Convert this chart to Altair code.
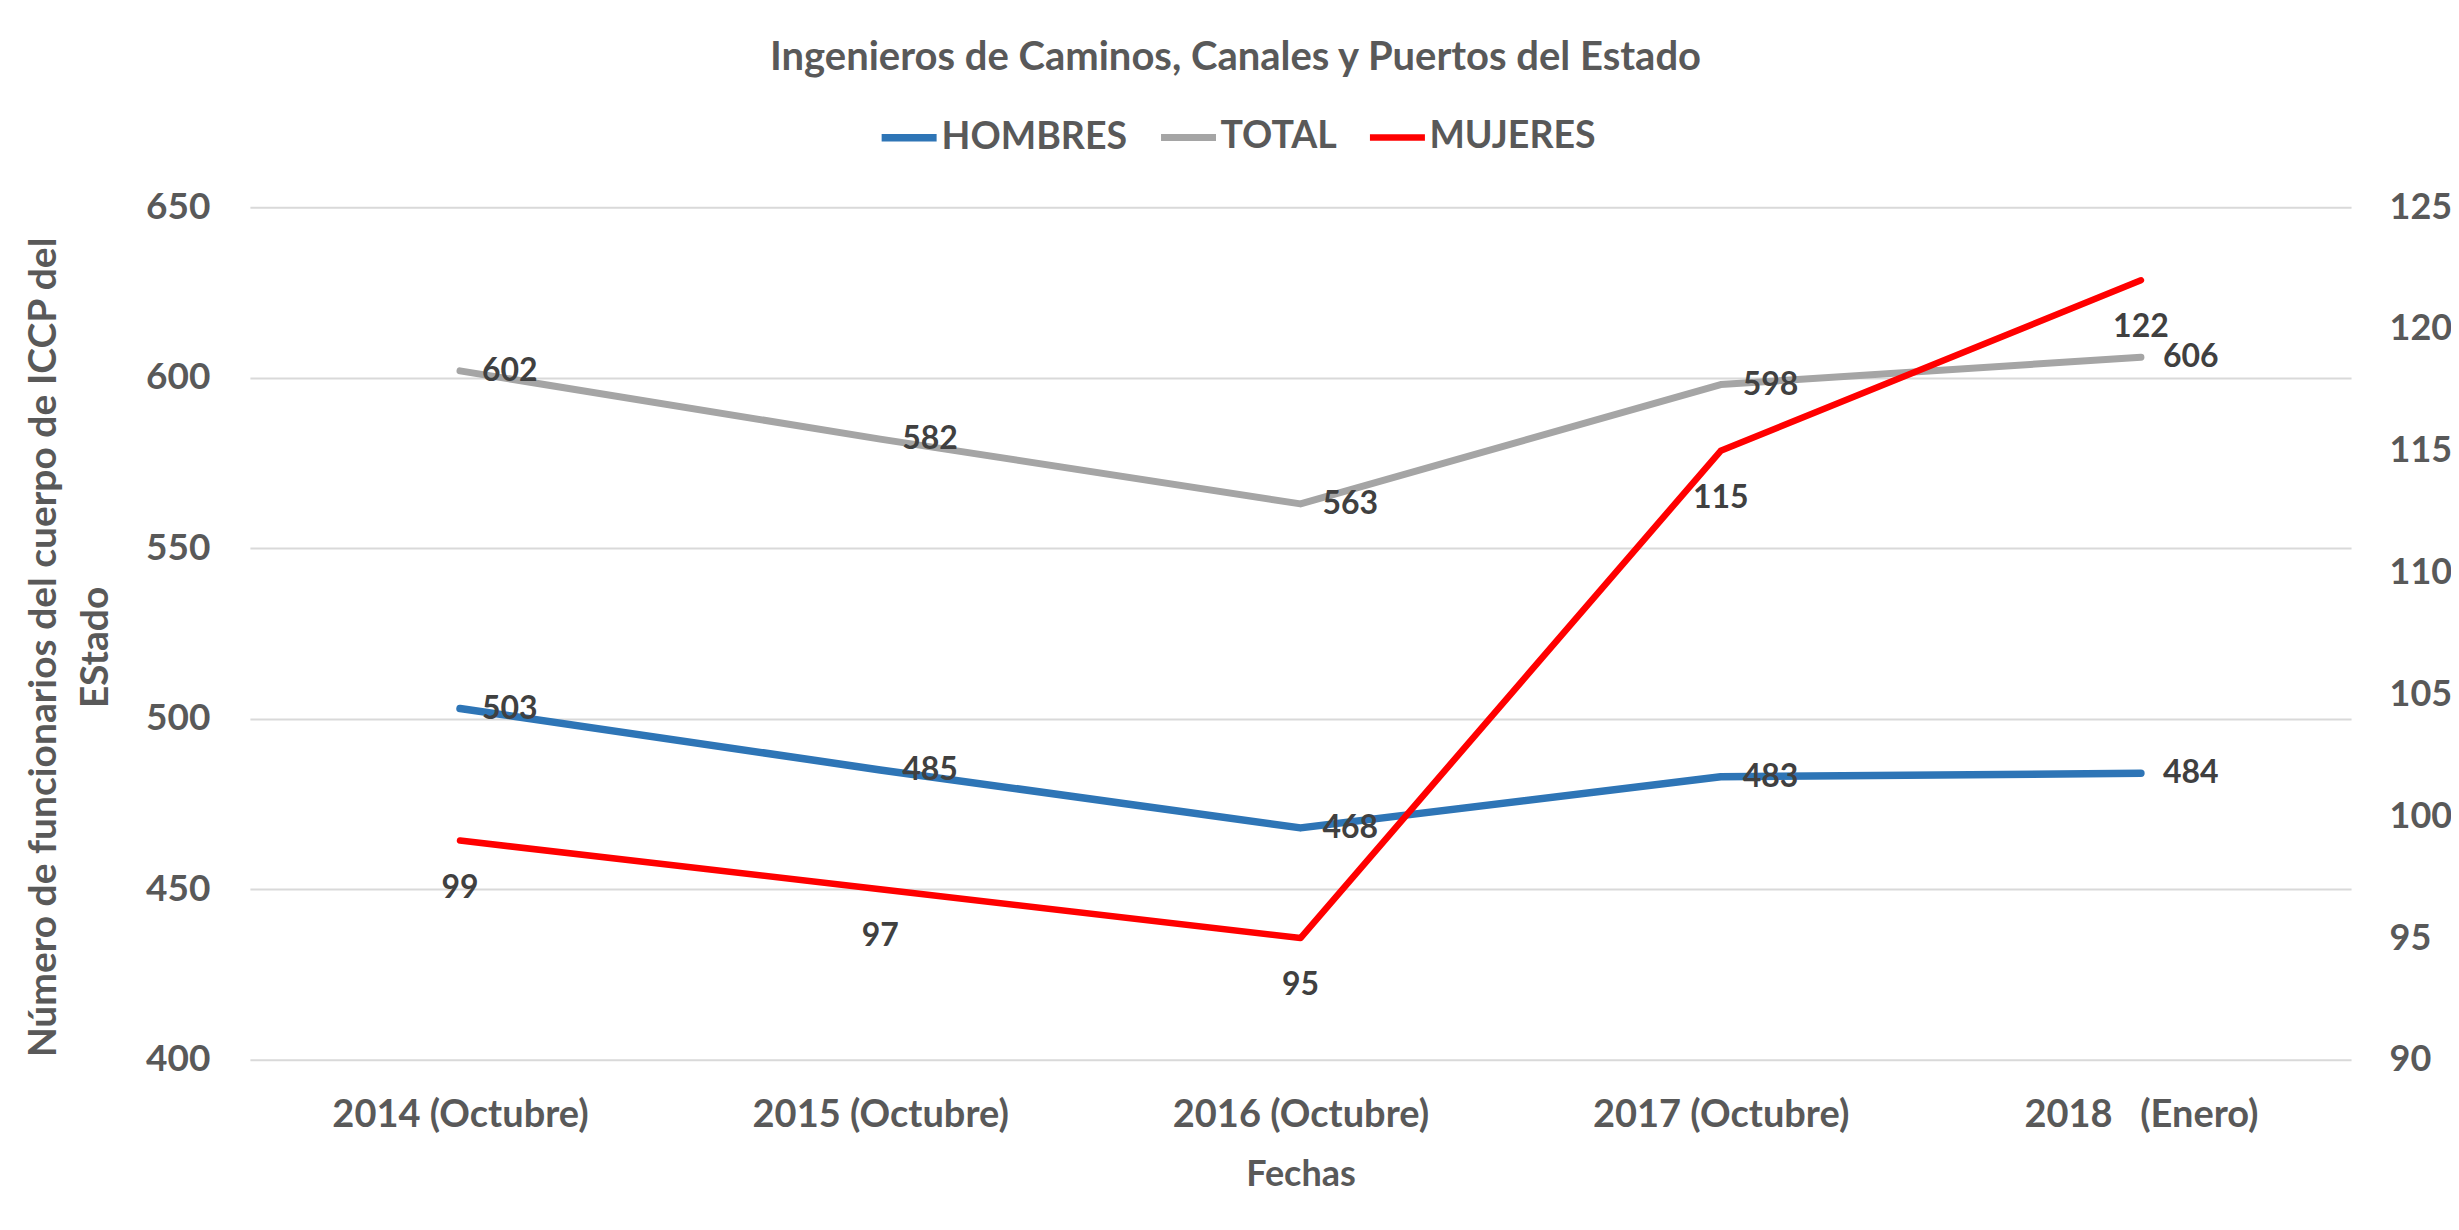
import altair as alt
import pandas as pd

# ---- data ----
fechas = ["2014 (Octubre)", "2015 (Octubre)", "2016 (Octubre)", "2017 (Octubre)", "2018\u00a0\u00a0\u00a0(Enero)"]
hombres = [503, 485, 468, 483, 484]
total = [602, 582, 563, 598, 606]
mujeres = [99, 97, 95, 115, 122]

series_order = ["HOMBRES", "TOTAL", "MUJERES"]
series_colors = ["#2E75B6", "#A5A5A5", "#FF0000"]
series_widths = [7.5, 6.5, 8.5]

left_df = pd.DataFrame({
    "Fechas": fechas * 2,
    "valor": hombres + total,
    "serie": ["HOMBRES"] * len(fechas) + ["TOTAL"] * len(fechas),
})
right_df = pd.DataFrame({
    "Fechas": fechas,
    "valor": mujeres,
    "serie": ["MUJERES"] * len(fechas),
})

FONT = "Lato"
GREY = "#595959"
LABEL = "#404040"

x_enc = alt.X(
    "Fechas:N",
    sort=fechas,
    scale=alt.Scale(type="point", padding=0.5),
    axis=alt.Axis(
        title="Fechas", labelAngle=0, domain=False, ticks=False, grid=False,
        labelFont=FONT, labelFontWeight="bold", labelFontSize=38, labelColor=GREY,
        labelPadding=37, labelLimit=0,
        titleFont=FONT, titleFontWeight="bold", titleFontSize=36, titleColor=GREY,
        titlePadding=23,
    ),
)

legend = alt.Legend(
    title=None, orient="none", legendX=628, legendY=-101, direction="horizontal",
    symbolType="stroke", symbolSize=3025, symbolStrokeWidth=8,
    labelFont=FONT, labelFontWeight="bold", labelFontSize=37.5, labelColor=GREY,
    labelOffset=1, columnPadding=19, symbolOpacity=1, labelLimit=0,
)
color_enc = alt.Color(
    "serie:N",
    scale=alt.Scale(domain=series_order, range=series_colors),
    legend=legend,
    sort=series_order,
)
width_enc = alt.StrokeWidth(
    "serie:N", scale=alt.Scale(domain=series_order, range=series_widths), legend=None
)

y_left = alt.Y(
    "valor:Q",
    scale=alt.Scale(domain=[400, 650], nice=False, zero=False),
    axis=alt.Axis(
        values=[400, 450, 500, 550, 600, 650], grid=True, gridColor="#D9D9D9", gridWidth=2,
        domain=False, ticks=False,
        labelFont=FONT, labelFontWeight="bold", labelFontSize=37, labelColor=GREY,
        labelPadding=40, labelLimit=0,
        title=["Número de funcionarios del cuerpo de ICCP del", "EStado"],
        titleFont=FONT, titleFontWeight="bold", titleFontSize=39, titleColor=GREY,
        titleLineHeight=52, titlePadding=30, titleLimit=0, titleY=440,
    ),
)
y_right = alt.Y(
    "valor:Q",
    scale=alt.Scale(domain=[90, 125], nice=False, zero=False),
    axis=alt.Axis(
        orient="right", values=[90, 95, 100, 105, 110, 115, 120, 125], grid=False,
        domain=False, ticks=False,
        labelFont=FONT, labelFontWeight="bold", labelFontSize=36, labelColor=GREY,
        labelPadding=38, labelLimit=0, title=None,
    ),
)

left_lines = alt.Chart(left_df).mark_line(strokeCap="round", strokeJoin="round").encode(
    x=x_enc, y=y_left, color=color_enc, strokeWidth=width_enc, detail="serie:N"
)
left_text = alt.Chart(left_df).mark_text(
    align="left", baseline="middle", dx=22, font=FONT, fontWeight="bold",
    fontSize=32, color=LABEL,
).encode(x=x_enc, y=y_left, text="valor:Q")

right_line = alt.Chart(right_df).mark_line(strokeCap="round", strokeJoin="round").encode(
    x=x_enc, y=y_right, color=color_enc, strokeWidth=width_enc
)
right_text = alt.Chart(right_df).mark_text(
    align="center", baseline="middle", dy=47, font=FONT, fontWeight="bold",
    fontSize=32, color=LABEL,
).encode(x=x_enc, y=y_right, text="valor:Q")

left = alt.layer(left_lines, left_text)
right = alt.layer(right_line, right_text)

chart = (
    alt.layer(left, right)
    .resolve_scale(y="independent")
    .properties(
        width=2102,
        height=853,
        autosize=alt.AutoSizeParams(type="none"),
        padding={"left": 242, "top": 199, "right": 100, "bottom": 162},
        title=alt.TitleParams(
            "Ingenieros de Caminos, Canales y Puertos del Estado",
            font=FONT, fontWeight="bold", fontSize=40, color=GREY,
            anchor="middle", frame="group", dx=-65, offset=28,
        ),
        background="white",
    )
    .configure_view(stroke="transparent")
)

chart.save("out.html", embed_options={"renderer": "svg", "actions": False})
